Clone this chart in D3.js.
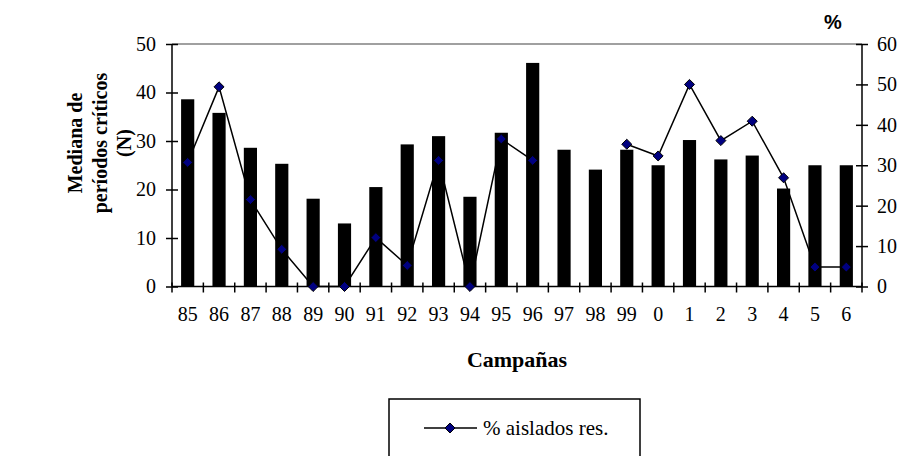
<!DOCTYPE html>
<html>
<head>
<meta charset="utf-8">
<script src="https://cdn.jsdelivr.net/npm/d3@7"></script>
<style>
  html, body { margin: 0; padding: 0; background: #fff; }
  svg { display: block; }
  text { font-family: "Liberation Serif", "Times New Roman", serif; fill: #000; }
</style>
</head>
<body>
<svg id="chart" width="904" height="456"></svg>
<script>
// Campaigns (seasons) 1985–2006
const campaigns = ["85","86","87","88","89","90","91","92","93","94","95","96","97","98","99","0","1","2","3","4","5","6"];
// Median number of critical periods (N), left axis
const medianCritical = [38.6, 35.8, 28.6, 25.3, 18.1, 13.0, 20.5, 29.3, 31.0, 18.5, 31.7, 46.1, 28.2, 24.1, 28.2, 25.0, 30.2, 26.2, 27.0, 20.2, 25.0, 25.0];
// % resistant isolates, right axis (null = no sample)
const pctResistant = [30.7, 49.4, 21.5, 9.2, 0, 0, 12.1, 5.2, 31.2, 0, 36.5, 31.2, null, null, 35.2, 32.3, 50.0, 36.1, 40.9, 26.9, 4.8, 4.8];
const leftTicks = [0, 10, 20, 30, 40, 50];
const rightTicks = [0, 10, 20, 30, 40, 50, 60];

const svg = d3.select("#chart");
const plot = { left: 172, right: 862, top: 44, bottom: 286.5 };

const x = d3.scaleBand().domain(campaigns).range([plot.left, plot.right]).padding(0);
const yL = d3.scaleLinear().domain([0, 50]).range([plot.bottom, plot.top]);
const yR = d3.scaleLinear().domain([0, 60]).range([plot.bottom, plot.top]);
const barW = x.bandwidth() * 0.42;
const serif = "'Liberation Serif', 'Times New Roman', serif";

// top border of the plot area
svg.append("line")
  .attr("x1", plot.left).attr("x2", plot.right)
  .attr("y1", plot.top).attr("y2", plot.top)
  .attr("stroke", "#808080").attr("stroke-width", 1.5);

// bars
svg.append("g").selectAll("rect").data(campaigns).join("rect")
  .attr("x", (d) => x(d) + (x.bandwidth() - barW) / 2)
  .attr("width", barW)
  .attr("y", (d, i) => yL(medianCritical[i]))
  .attr("height", (d, i) => yL(0) - yL(medianCritical[i]))
  .attr("fill", "#000");

// left axis
const gL = svg.append("g").attr("transform", `translate(${plot.left},0)`)
  .call(d3.axisLeft(yL).tickValues(leftTicks).tickSize(6).tickPadding(10));
gL.selectAll(".tick line").attr("x2", 6).attr("x1", -6).attr("stroke-width", 1.5);
gL.select(".domain").remove();
gL.append("line").attr("y1", plot.top).attr("y2", plot.bottom).attr("stroke", "#000").attr("stroke-width", 1.5);

// right axis
const gR = svg.append("g").attr("transform", `translate(${plot.right},0)`)
  .call(d3.axisRight(yR).tickValues(rightTicks).tickSize(6).tickPadding(9));
gR.selectAll(".tick line").attr("x1", -6).attr("x2", 6).attr("stroke-width", 1.5);
gR.select(".domain").remove();
gR.append("line").attr("y1", plot.top).attr("y2", plot.bottom).attr("stroke", "#000").attr("stroke-width", 1.5);

[gL, gR].forEach((g) => g.selectAll(".tick text")
  .style("font-family", serif).style("font-size", "20px").attr("fill", "#000"));

// bottom axis: labels centred on bands, ticks on band boundaries
const gX = svg.append("g").attr("transform", `translate(0,${plot.bottom})`)
  .call(d3.axisBottom(x).tickSize(0).tickPadding(20));
gX.select(".domain").remove();
gX.selectAll(".tick text")
  .style("font-family", serif).style("font-size", "20px").attr("fill", "#000");
gX.append("line").attr("x1", plot.left).attr("x2", plot.right).attr("stroke", "#000").attr("stroke-width", 1.5);
gX.selectAll("line.sep").data(d3.range(campaigns.length + 1)).join("line")
  .attr("class", "sep")
  .attr("x1", (i) => plot.left + i * x.step()).attr("x2", (i) => plot.left + i * x.step())
  .attr("y1", -4).attr("y2", 6)
  .attr("stroke", "#000").attr("stroke-width", 1.5);

// % resistant line with diamond markers
const cx = (d) => x(d) + x.bandwidth() / 2;
const pts = campaigns.map((c, i) => ({ c, v: pctResistant[i] }));
const line = d3.line().defined((d) => d.v !== null).x((d) => cx(d.c)).y((d) => yR(d.v));
svg.append("path").datum(pts).attr("d", line)
  .attr("fill", "none").attr("stroke", "#000").attr("stroke-width", 1.5);

const diamond = d3.symbol().type(d3.symbolDiamond2).size(64);
svg.append("g").selectAll("path").data(pts.filter((d) => d.v !== null)).join("path")
  .attr("d", diamond)
  .attr("transform", (d) => `translate(${cx(d.c)},${yR(d.v)})`)
  .attr("fill", "#000080").attr("stroke", "#000").attr("stroke-width", 1);

// axis titles
const yTitle = svg.append("text")
  .attr("transform", "translate(0,143) rotate(-90)")
  .attr("text-anchor", "middle")
  .style("font-family", serif).style("font-weight", "bold").style("font-size", "20px");
[["Mediana de", 82], ["períodos críticos", 107], ["(N)", 131]].forEach(([t, dx]) =>
  yTitle.append("tspan").attr("x", 0).attr("y", dx).text(t));

svg.append("text").attr("x", (plot.left + plot.right) / 2).attr("y", 367)
  .attr("text-anchor", "middle")
  .style("font-family", serif).style("font-weight", "bold").style("font-size", "22px")
  .text("Campañas");

svg.append("text").attr("x", 833).attr("y", 29)
  .attr("text-anchor", "middle")
  .style("font-family", "'Liberation Sans', Arial, sans-serif")
  .style("font-weight", "bold").style("font-size", "20px")
  .text("%");

// legend
const lg = svg.append("g");
lg.append("rect").attr("x", 389).attr("y", 399).attr("width", 251).attr("height", 70)
  .attr("fill", "#fff").attr("stroke", "#000").attr("stroke-width", 1.5);
lg.append("line").attr("x1", 424).attr("x2", 477).attr("y1", 428).attr("y2", 428)
  .attr("stroke", "#000").attr("stroke-width", 1.5);
lg.append("path").attr("d", diamond).attr("transform", "translate(450,428)")
  .attr("fill", "#000080").attr("stroke", "#000").attr("stroke-width", 1);
lg.append("text").attr("x", 483).attr("y", 435)
  .style("font-family", serif).style("font-size", "21px")
  .text("% aislados res.");
</script>
</body>
</html>
